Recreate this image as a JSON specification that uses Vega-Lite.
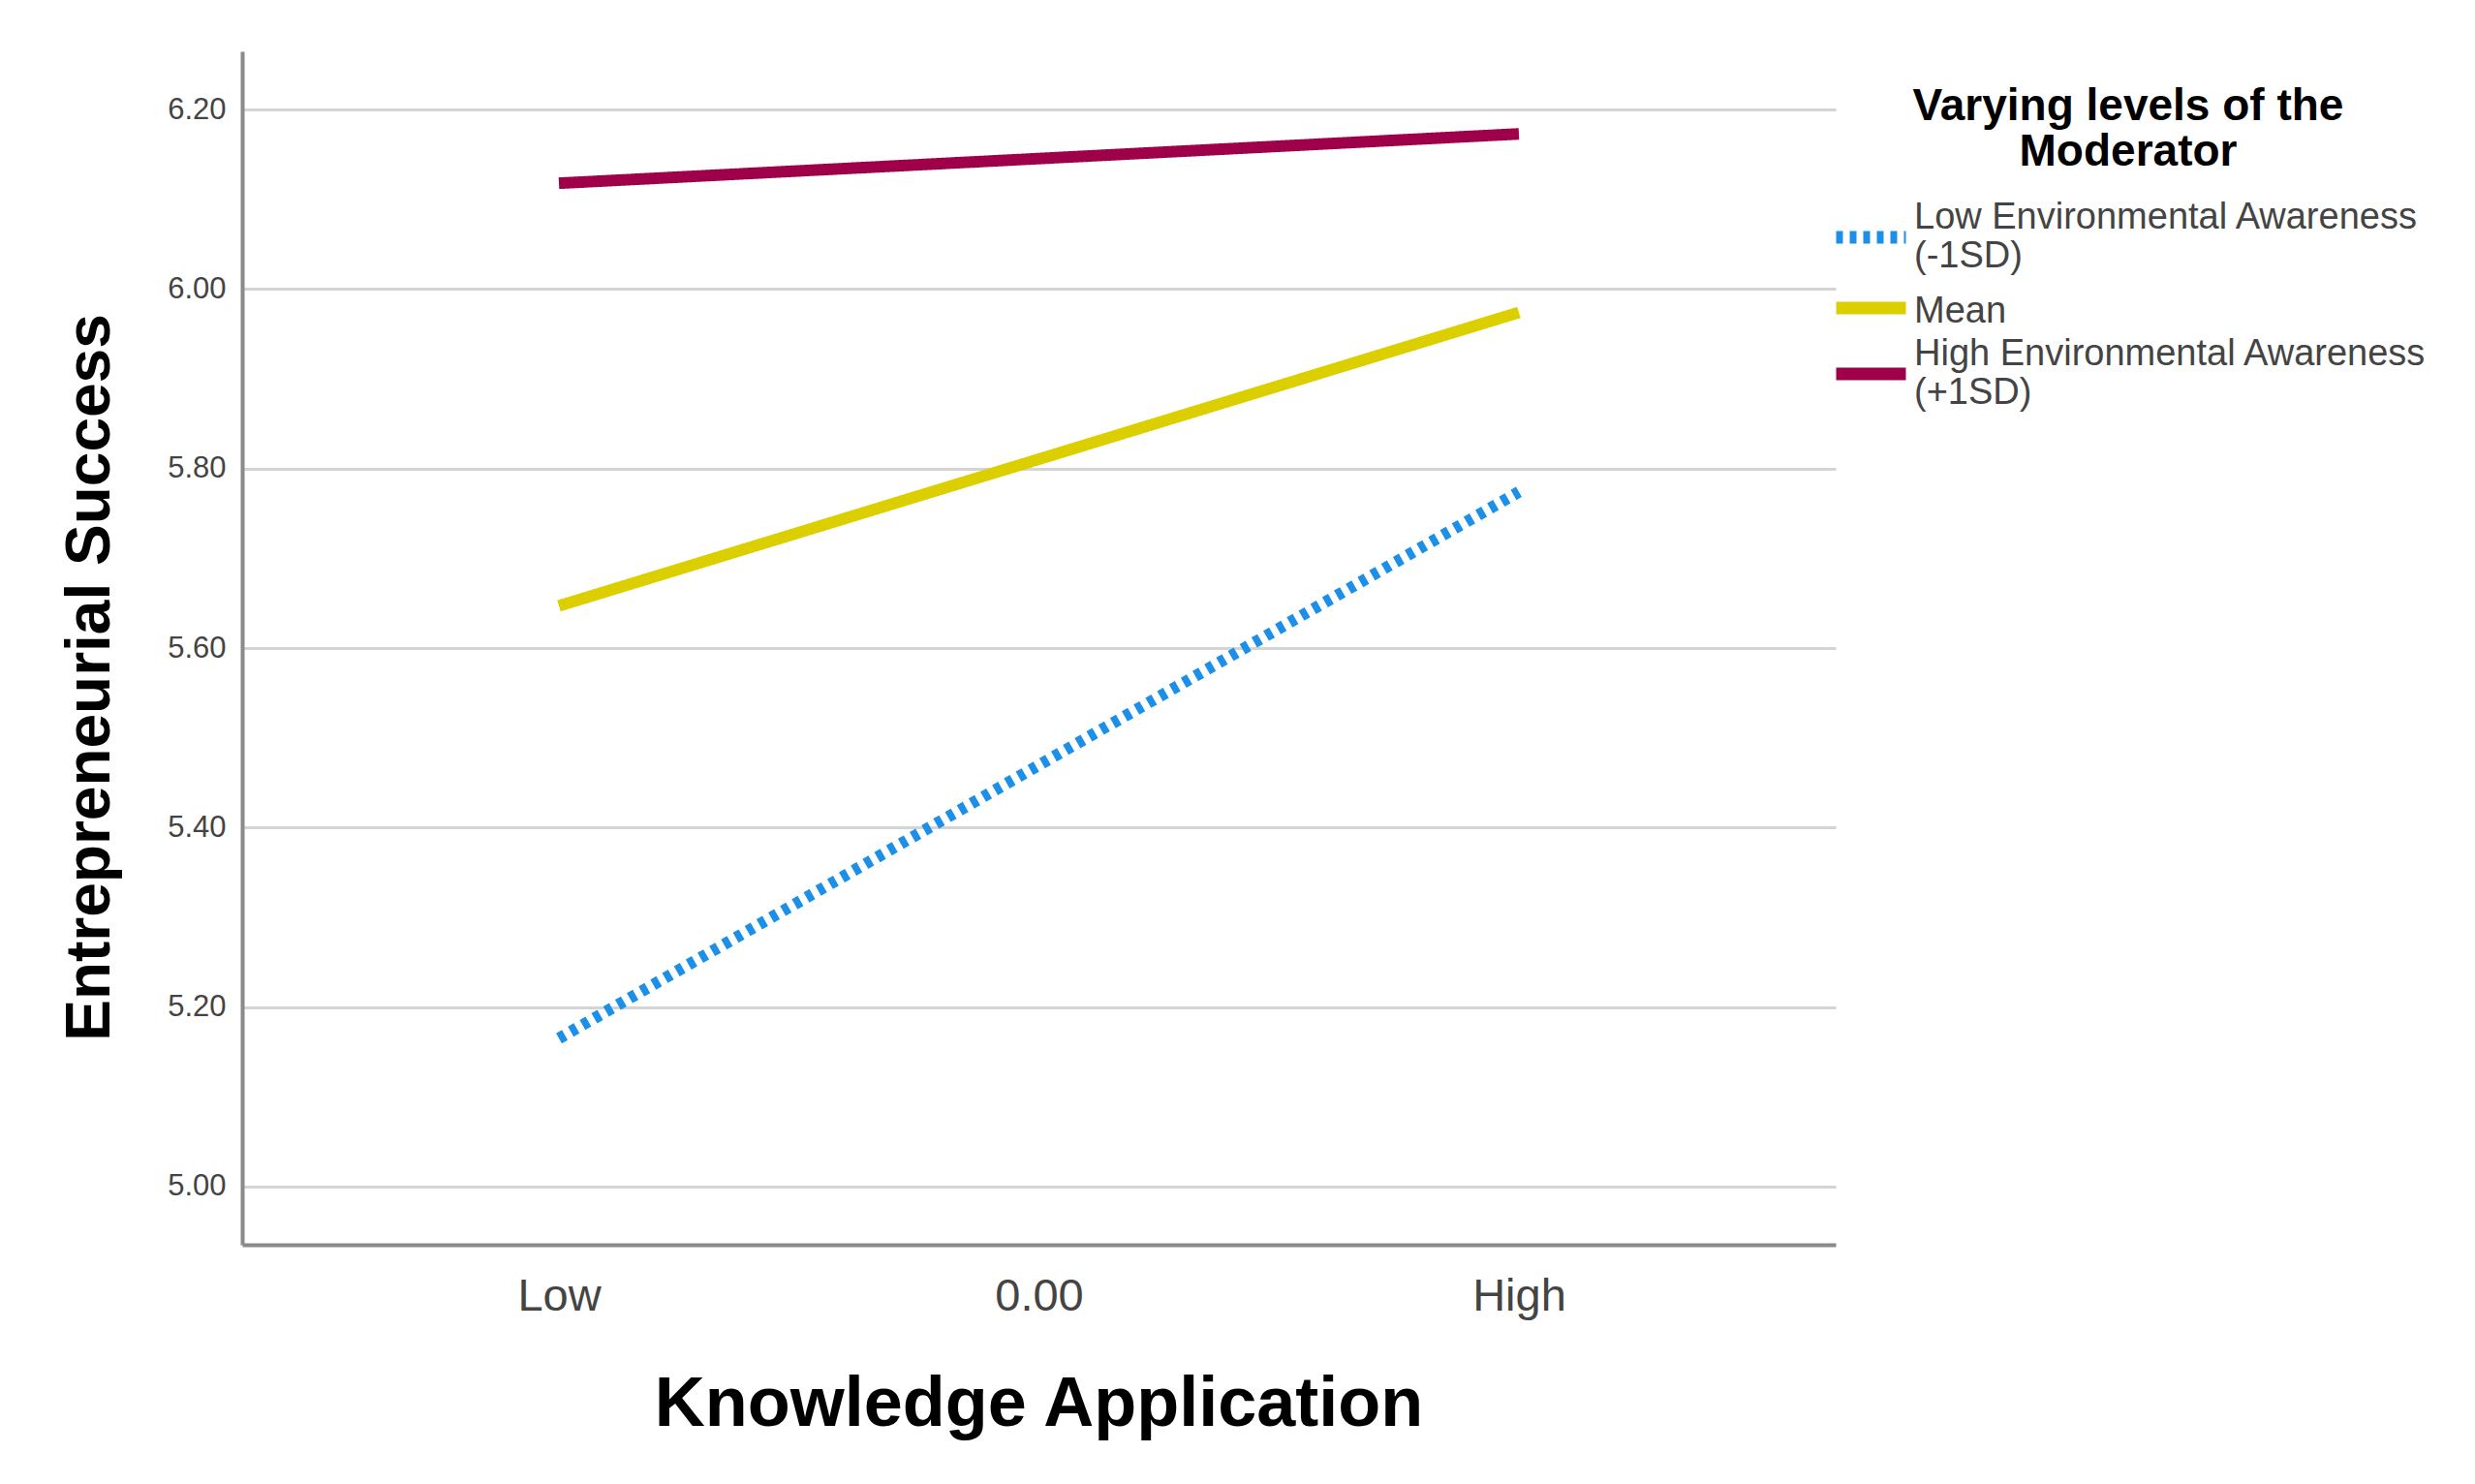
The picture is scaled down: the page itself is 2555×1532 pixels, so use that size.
{
  "$schema": "https://vega.github.io/schema/vega-lite/v6.json",
  "autosize": {"type": "none"},
  "width": 1645,
  "height": 1232,
  "padding": {"left": 250, "top": 53, "right": 660, "bottom": 247},
  "background": "white",
  "config": {
    "view": {"stroke": null},
    "font": "Liberation Sans"
  },
  "data": {
    "values": [
      {"ka": "Low", "success": 5.165, "moderator": "Low Environmental Awareness (-1SD)"},
      {"ka": "High", "success": 5.774, "moderator": "Low Environmental Awareness (-1SD)"},
      {"ka": "Low", "success": 5.647, "moderator": "Mean"},
      {"ka": "High", "success": 5.974, "moderator": "Mean"},
      {"ka": "Low", "success": 6.118, "moderator": "High Environmental Awareness (+1SD)"},
      {"ka": "High", "success": 6.173, "moderator": "High Environmental Awareness (+1SD)"}
    ]
  },
  "mark": {"type": "line", "strokeWidth": 12, "strokeCap": "butt"},
  "encoding": {
    "x": {
      "field": "ka",
      "type": "ordinal",
      "scale": {"type": "point", "domain": ["Low", "0.00", "High"], "padding": 0.66},
      "axis": {
        "title": "Knowledge Application",
        "titleFont": "Liberation Sans",
        "titleFontSize": 72,
        "titleFontWeight": "bold",
        "titleColor": "#000000",
        "titleX": 822,
        "titleY": 186,
        "titleBaseline": "alphabetic",
        "titleAlign": "center",
        "labelAngle": 0,
        "labelFont": "Liberation Sans",
        "labelFontSize": 47,
        "labelColor": "#444444",
        "labelBaseline": "alphabetic",
        "labelPadding": 67,
        "ticks": false,
        "tickSize": 0,
        "grid": false,
        "domainColor": "#8a8a8a",
        "domainWidth": 4
      }
    },
    "y": {
      "field": "success",
      "type": "quantitative",
      "scale": {"domain": [4.935, 6.265], "nice": false, "zero": false},
      "axis": {
        "title": "Entrepreneurial Success",
        "titleFont": "Liberation Sans",
        "titleFontSize": 64,
        "titleFontWeight": "bold",
        "titleColor": "#000000",
        "titleAngle": -90,
        "titleX": -157,
        "titleY": 646,
        "titleAlign": "center",
        "titleBaseline": "middle",
        "values": [5.0, 5.2, 5.4, 5.6, 5.8, 6.0, 6.2],
        "format": ".2f",
        "labelFont": "Liberation Sans",
        "labelFontSize": 31,
        "labelColor": "#444444",
        "labelPadding": 17,
        "ticks": false,
        "tickSize": 0,
        "grid": true,
        "gridColor": "#d4d4d4",
        "gridWidth": 3,
        "domainColor": "#8a8a8a",
        "domainWidth": 4
      }
    },
    "color": {
      "field": "moderator",
      "type": "nominal",
      "scale": {
        "domain": ["Low Environmental Awareness (-1SD)", "Mean", "High Environmental Awareness (+1SD)"],
        "range": ["#1c8fe8", "#dccf00", "#9e0049"]
      },
      "legend": {
        "title": ["Varying levels of the", "Moderator"],
        "orient": "none",
        "legendX": 1639,
        "legendY": 35,
        "padding": 0,
        "titleFont": "Liberation Sans",
        "titleFontSize": 46,
        "titleFontWeight": "bold",
        "titleColor": "#000000",
        "titleLineHeight": 47,
        "titleLimit": 900,
        "titleAnchor": "middle",
        "titleAlign": "center",
        "titlePadding": 30,
        "symbolType": "stroke",
        "symbolSize": 5184,
        "symbolStrokeWidth": 13,
        "clipHeight": 68,
        "labelFont": "Liberation Sans",
        "labelFontSize": 38,
        "labelColor": "#444444",
        "labelOffset": 2,
        "labelLimit": 700,
        "rowPadding": -9,
        "labelExpr": "indexof(datum.label, ' (') > 0 ? [slice(datum.label, 0, indexof(datum.label, ' (')), slice(datum.label, indexof(datum.label, ' (') + 1)] : datum.label",
        "encode": {
          "labels": {
            "update": {
              "dy": {"signal": "indexof(datum.label, ' (') > 0 ? -20 : 4"}
            }
          }
        }
      }
    },
    "strokeDash": {
      "field": "moderator",
      "type": "nominal",
      "scale": {
        "domain": ["Low Environmental Awareness (-1SD)", "Mean", "High Environmental Awareness (+1SD)"],
        "range": [[7, 7], [1, 0], [1, 0]]
      },
      "legend": null
    }
  }
}
